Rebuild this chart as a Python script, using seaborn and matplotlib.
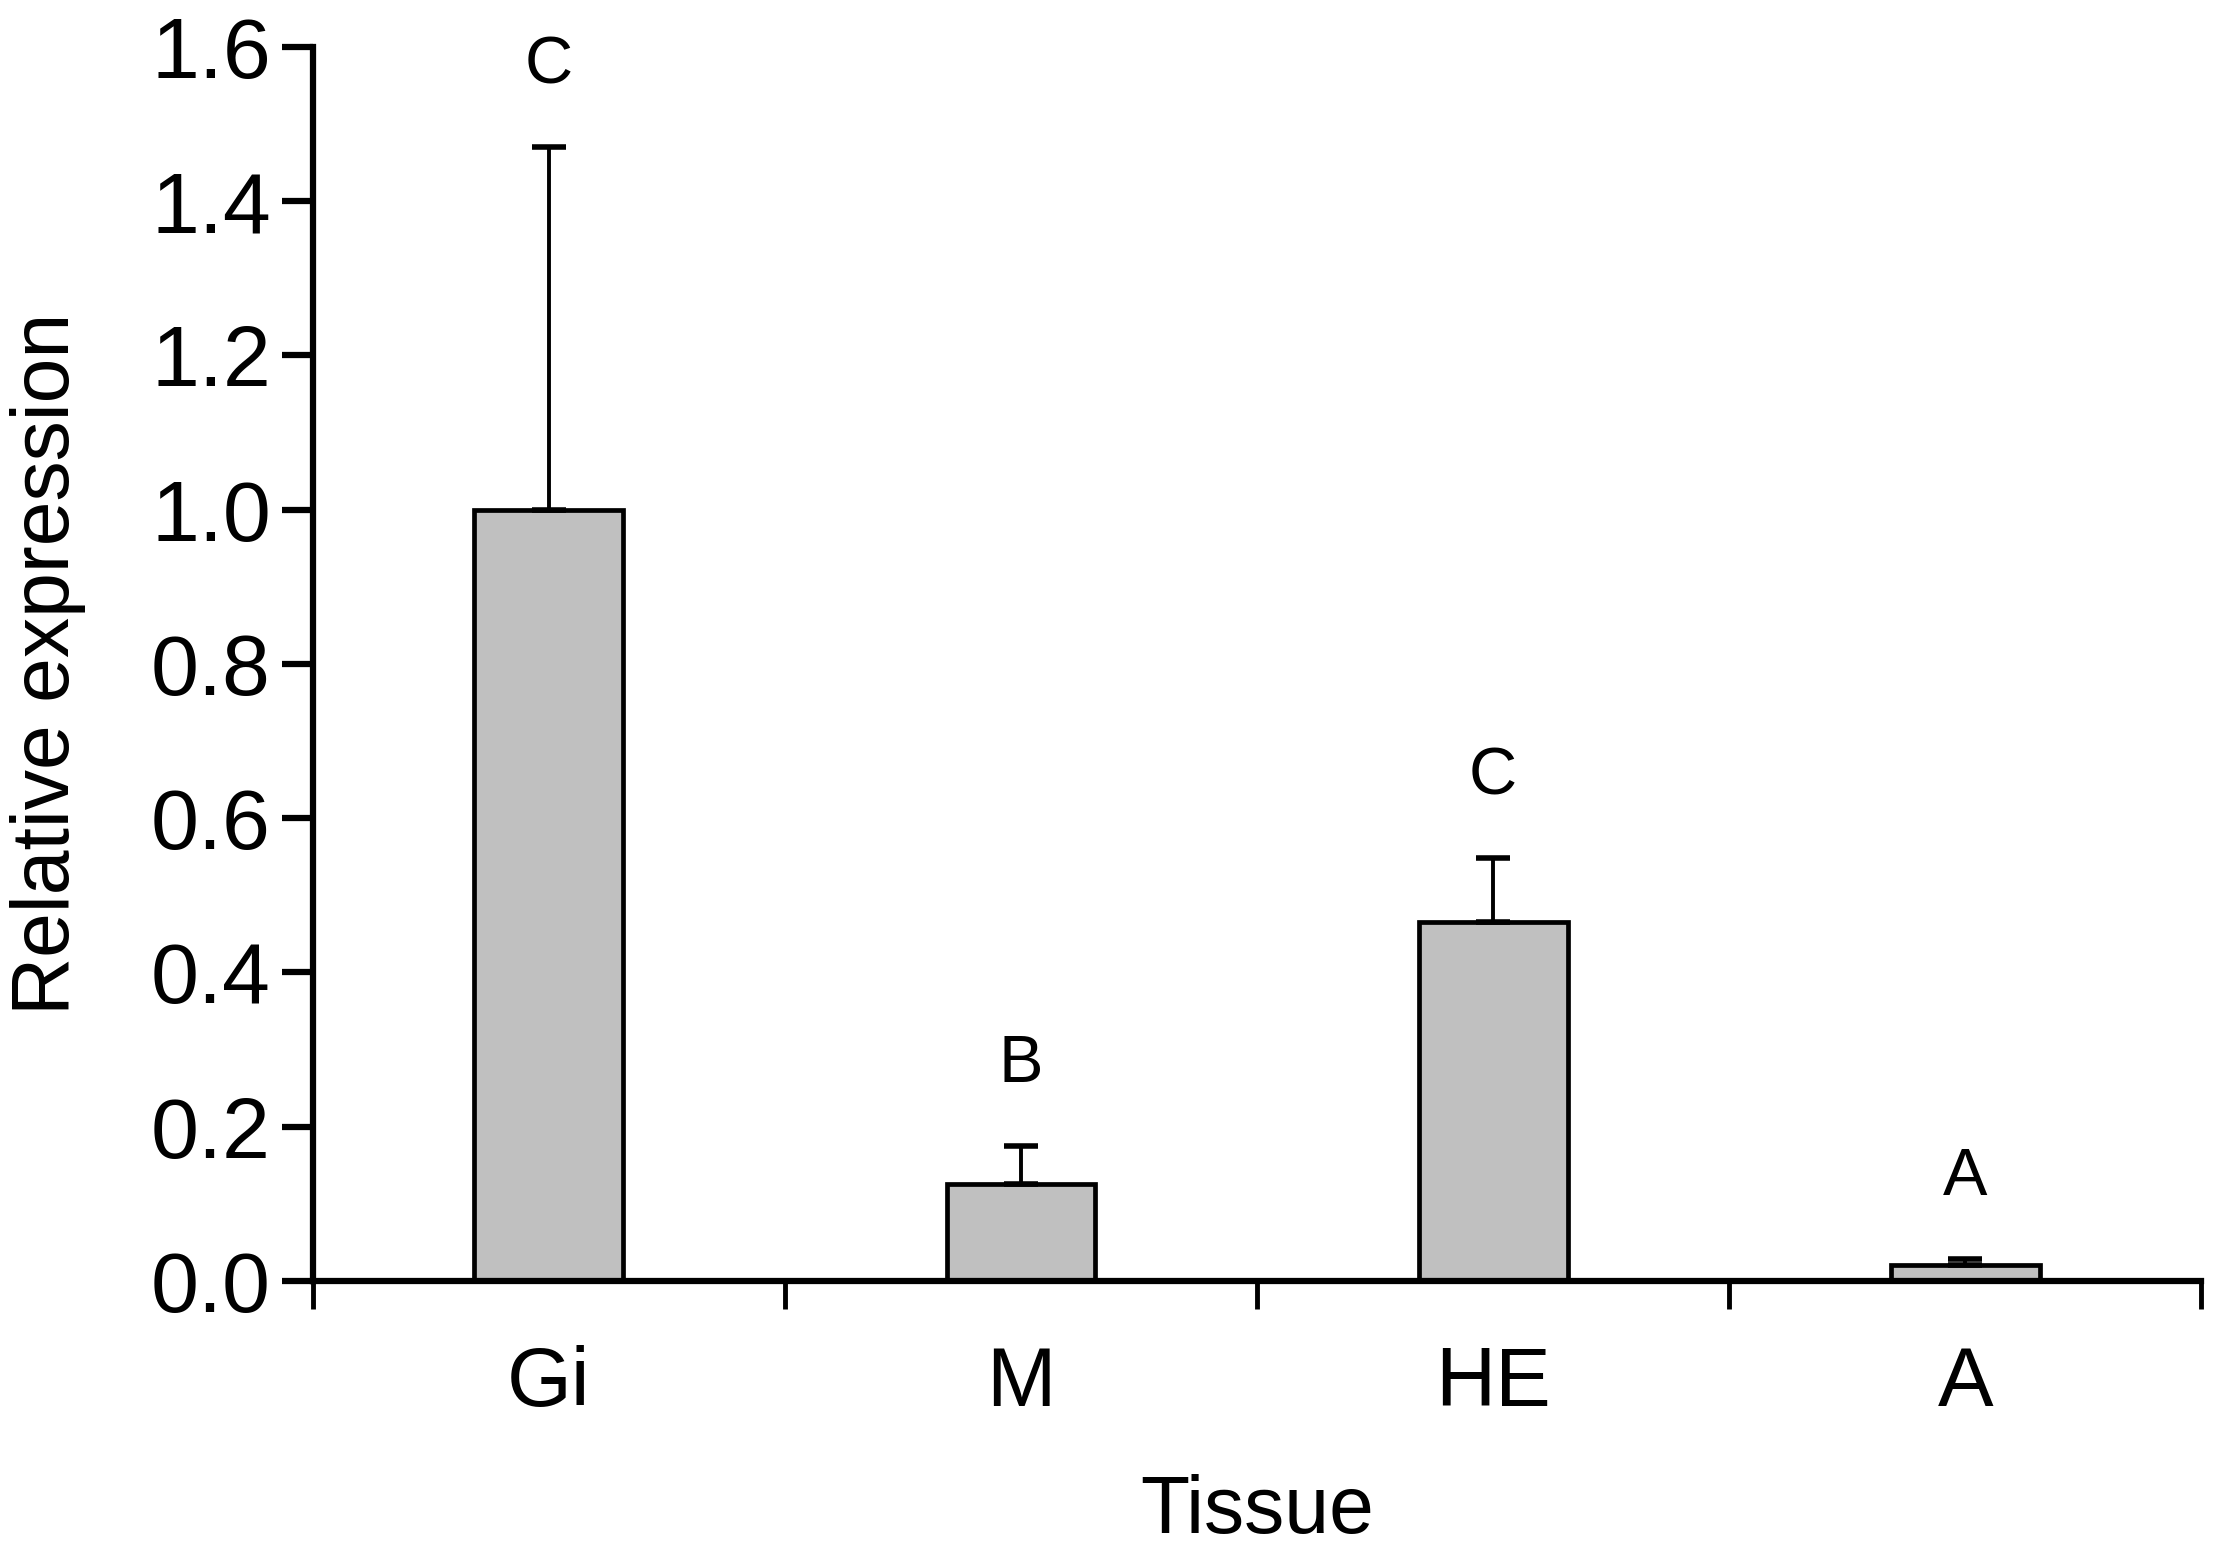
import numpy as np
import pandas as pd
import matplotlib
matplotlib.use('Agg')
import matplotlib.pyplot as plt
import seaborn as sns

sns.set_style('ticks', {'text.color': 'black', 'axes.labelcolor': 'black',
                        'xtick.color': 'black', 'ytick.color': 'black',
                        'axes.edgecolor': 'black'})
plt.rcParams['font.family'] = ['Liberation Sans', 'DejaVu Sans']

# data
tissues = ['Gi', 'M', 'HE', 'A']
expression = [1.0, 0.125, 0.465, 0.02]
err_upper = [0.47, 0.05, 0.083, 0.008]
letters = ['C', 'B', 'C', 'A']

df = pd.DataFrame({'Tissue': tissues, 'Relative expression': expression})

fig = plt.figure(figsize=(22.17, 15.6), dpi=100)
ax = fig.add_axes([0.141, 0.179, 0.852, 0.791])

sns.barplot(data=df, x='Tissue', y='Relative expression', ax=ax,
            width=0.315, color='#c0c0c0', saturation=1,
            edgecolor='black', linewidth=3.4, errorbar=None)

pos = np.arange(len(tissues))
ax.errorbar(pos, expression, yerr=[np.zeros(len(tissues)), err_upper],
            fmt='none', ecolor='black', elinewidth=2.8,
            capsize=12, capthick=4, zorder=3)

for x, y, e, t in zip(pos, expression, err_upper, letters):
    ax.text(x, y + e + 0.105, t, ha='center', va='center', fontsize=48)

ax.set_xlim(-0.5, 3.5)
ax.set_ylim(0, 1.6)
ax.set_yticks(np.arange(0, 1.61, 0.2))
ax.set_yticklabels([f'{v:.1f}' for v in np.arange(0, 1.61, 0.2)])
ax.set_xticks(np.arange(-0.5, 3.6, 1.0))
ax.set_xticklabels([])
ax.set_xticks(pos, minor=True)
ax.set_xticklabels(tissues, minor=True)

ax.tick_params(axis='y', which='major', length=22, width=4.5,
               labelsize=62, pad=8, direction='out')
ax.tick_params(axis='x', which='major', length=20, width=3.5,
               direction='out')
ax.tick_params(axis='x', which='minor', length=0, labelsize=60, pad=46)

sns.despine(ax=ax)
for side in ['left', 'bottom']:
    ax.spines[side].set_linewidth(4.5)

ax.set_xlabel('Tissue', fontsize=58)
ax.set_ylabel('Relative expression', fontsize=58)
ax.xaxis.set_label_coords(0.5, -0.157)
ax.yaxis.set_label_coords(-0.12, 0.5)

fig.savefig('out.png', dpi=100, facecolor='white')
